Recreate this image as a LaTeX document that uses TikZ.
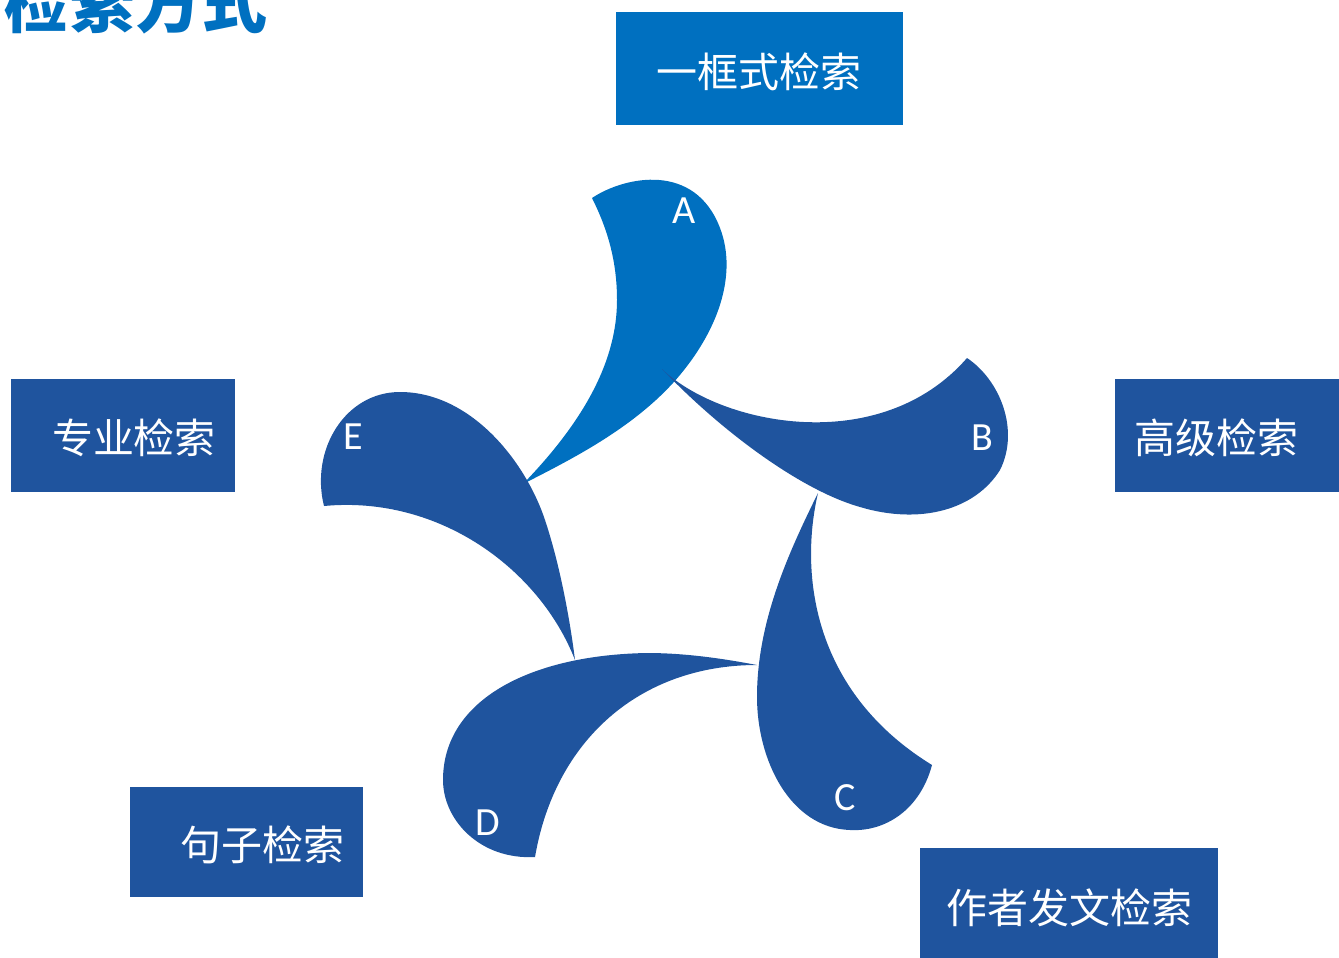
\documentclass[tikz,border=0pt]{standalone}
\usepackage{fontspec}
\setmainfont{Carlito}
\newfontfamily\cjk{Noto Sans CJK SC}
\definecolor{lblue}{HTML}{0070C0}
\definecolor{dblue}{HTML}{1F549E}
\begin{document}
\begin{tikzpicture}[x=1pt,y=-1pt,
  btext/.style={text=white,inner sep=0pt,font=\cjk\fontsize{41}{45}\selectfont},
  letter/.style={text=white,inner sep=0pt,font=\fontsize{40}{44}\selectfont},
  petalL/.style={fill=lblue},
  petalD/.style={fill=dblue}]
\useasboundingbox (0,0) rectangle (1339,958);
\clip (0,0) rectangle (1339,958);
% title
\node[anchor=base west,inner sep=0pt,text=lblue,font=\cjk\bfseries\fontsize{66}{70}\selectfont] (title) at (3,28) {检索方式};
% petal A
\fill[petalL] (523,484) .. controls (585,420) and (617,360) .. (617,300)
  .. controls (617,260) and (607,228) .. (592,198)
  .. controls (625,176) and (695,162) .. (720,228)
  .. controls (738,275) and (718,333) .. (673,383)
  .. controls (630,430) and (570,460) .. (523,484) -- cycle;
% petal B
\fill[petalD] (662,369) .. controls (720,425) and (880,458) .. (967,358)
  .. controls (1000,380) and (1020,430) .. (1000,470)
  .. controls (975,510) and (920,525) .. (860,507)
  .. controls (800,490) and (720,430) .. (662,369) -- cycle;
% petal C
\fill[petalD] (818,493) .. controls (800,570) and (810,690) .. (932,765)
  .. controls (920,810) and (885,832) .. (850,830)
  .. controls (790,828) and (757,760) .. (757,697)
  .. controls (757,620) and (790,550) .. (818,493) -- cycle;
% petal D
\fill[petalD] (757,665) .. controls (640,665) and (555,740) .. (535,857)
  .. controls (480,860) and (443,820) .. (443,780)
  .. controls (443,700) and (530,655) .. (647,653)
  .. controls (690,653) and (730,660) .. (757,665) -- cycle;
% petal E
\fill[petalD] (575,660) .. controls (540,570) and (440,495) .. (324,506)
  .. controls (310,450) and (345,392) .. (400,392)
  .. controls (470,392) and (525,460) .. (545,520)
  .. controls (560,565) and (570,620) .. (575,660) -- cycle;
% letters
\node[letter] (la) at (684,211) {A};
\node[letter] (lb) at (982,438) {B};
\node[letter] (lc) at (845,798) {C};
\node[letter] (ld) at (488,823) {D};
\node[letter] (le) at (353,437) {E};
% boxes
\fill[lblue] (616,12) rectangle (903,125);
\fill[dblue] (1115,379) rectangle (1339,492);
\fill[dblue] (11,379) rectangle (235,492);
\fill[dblue] (130,787) rectangle (363,897);
\fill[dblue] (920,848) rectangle (1218,958);
\node[btext] (t1) at (759,72) {一框式检索};
\node[btext] (t2) at (1216,438) {高级检索};
\node[btext] (t3) at (134,438) {专业检索};
\node[btext] (t4) at (262,845) {句子检索};
\node[btext] (t5) at (1069,908) {作者发文检索};
\end{tikzpicture}
\end{document}
